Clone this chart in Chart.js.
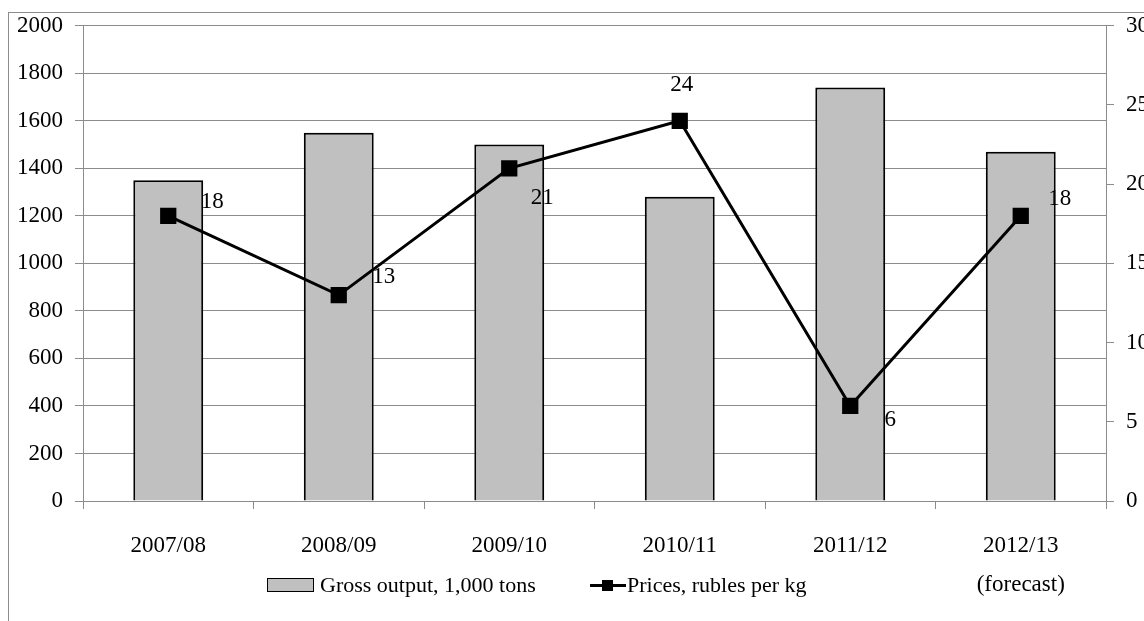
<!DOCTYPE html>
<html>
<head>
<meta charset="utf-8">
<script src="https://cdn.jsdelivr.net/npm/chart.js@4/dist/chart.umd.min.js"></script>
<style>
  body { margin: 0; background: #fff; }
  #wrap { position: relative; width: 1144px; height: 621px; overflow: hidden; font-family: 'Liberation Serif', 'DejaVu Serif', serif; }
  #frame { position: absolute; left: 8px; top: 12px; width: 1300px; height: 800px; border: 1px solid #8c8c8c; }
  #chart { position: absolute; left: 0; top: 0; }
  .leg { position: absolute; font-size: 22px; line-height: 22px; color: #000; white-space: nowrap; }
  .barSw { position: absolute; box-sizing: border-box; background: #c0c0c0; border: 1.5px solid #000; }
  .lineSw { position: absolute; height: 3px; background: #000; }
  .sqSw { position: absolute; background: #000; }
</style>
</head>
<body>
<div id="wrap">
  <div id="frame"></div>
  <canvas id="chart" width="1144" height="621"></canvas>
  <div class="barSw" style="left:267px;top:578px;width:47px;height:14px;"></div>
  <div class="leg" id="leg1" style="left:320px;top:574px;"></div>
  <div class="lineSw" style="left:590px;top:584px;width:36px;"></div>
  <div class="sqSw" style="left:602px;top:580px;width:11px;height:11px;"></div>
  <div class="leg" id="leg2" style="left:627px;top:574px;"></div>
</div>
<script>
// Données
var seasons = ['2007/08', '2008/09', '2009/10', '2010/11', '2011/12', ['2012/13', '(forecast)']];
var grossOutput = [1350, 1550, 1500, 1280, 1740, 1470];
var prices = [18, 13, 21, 24, 6, 18];
var outputLabel = 'Gross output, 1,000 tons';
var pricesLabel = 'Prices, rubles per kg';

document.getElementById('leg1').textContent = outputLabel;
document.getElementById('leg2').textContent = pricesLabel;

var serif = "'Liberation Serif', 'DejaVu Serif', serif";
var gridColor = '#8c8c8c';

// Étiquettes de valeurs placées à la main (comme dans le graphique d'origine)
var labelOffsets = [[44, -14], [45, -18], [33, 30], [2, -36], [40, 14], [39, -17]];

var valueLabels = {
    id: 'valueLabels',
    afterDatasetsDraw: function(chart) {
        var meta = chart.getDatasetMeta(1);
        var ctx = chart.ctx;
        ctx.save();
        ctx.font = '23px ' + serif;
        ctx.fillStyle = '#000';
        ctx.textAlign = 'center';
        ctx.textBaseline = 'middle';
        meta.data.forEach(function(pt, i) {
            ctx.fillText(String(prices[i]), pt.x + labelOffsets[i][0], pt.y + labelOffsets[i][1]);
        });
        ctx.restore();
    }
};

// Pas de séparateur de milliers sur les axes
function plainTick(value) {
    return String(value);
}

var chart = new Chart(document.getElementById('chart'), {
    data: {
        labels: seasons,
        datasets: [{
            type: 'bar',
            label: outputLabel,
            data: grossOutput,
            backgroundColor: '#c0c0c0',
            borderColor: '#000',
            borderWidth: 2,
            barPercentage: 0.41,
            categoryPercentage: 1,
            yAxisID: 'y',
            order: 2
        }, {
            type: 'line',
            label: pricesLabel,
            data: prices,
            borderColor: '#000',
            borderWidth: 3,
            pointStyle: 'rect',
            pointRadius: 11.5,
            pointBackgroundColor: '#000',
            pointBorderWidth: 0,
            tension: 0,
            yAxisID: 'y1',
            order: 1
        }]
    },
    options: {
        responsive: false,
        animation: false,
        layout: { padding: { top: 25, bottom: 0, left: 0, right: 0 } },
        plugins: {
            legend: { display: false },
            tooltip: { enabled: false }
        },
        scales: {
            x: {
                offset: true,
                grid: { offset: true, drawOnChartArea: false, tickLength: 8, color: gridColor },
                border: { color: gridColor },
                ticks: {
                    color: '#000', padding: 17, maxRotation: 0, autoSkip: false,
                    font: { family: serif, size: 23, lineHeight: 1.7 }
                },
                afterFit: function(s) { s.height = 120; }
            },
            y: {
                position: 'left',
                min: 0, max: 2000,
                ticks: { stepSize: 200, color: '#000', padding: 12, callback: plainTick, font: { family: serif, size: 23 } },
                grid: { color: gridColor, tickLength: 8 },
                border: { color: gridColor },
                afterFit: function(s) { s.width = 83; }
            },
            y1: {
                position: 'right',
                min: 0, max: 30,
                ticks: { stepSize: 5, color: '#000', padding: 12, callback: plainTick, font: { family: serif, size: 23 } },
                grid: { drawOnChartArea: false, color: gridColor, tickLength: 8 },
                border: { color: gridColor },
                afterFit: function(s) { s.width = 38; }
            }
        }
    },
    plugins: [valueLabels]
});
</script>
</body>
</html>
